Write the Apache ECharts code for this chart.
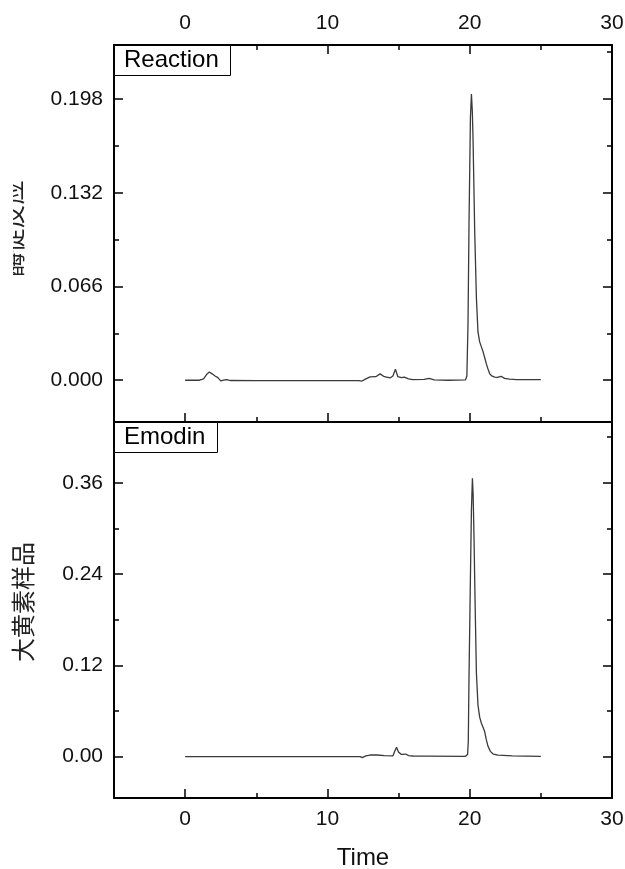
<!DOCTYPE html>
<html>
<head>
<meta charset="utf-8">
<script src="https://cdn.jsdelivr.net/npm/echarts@6/dist/echarts.min.js"></script>
<style>
  html, body { margin: 0; padding: 0; background: #fff; }
  #main { width: 625px; height: 869px; }
</style>
</head>
<body>
<div id="main"></div>
<script>
// 刻度
const timeTicks = [0, 10, 20, 30]
const timeMinor = [5, 15, 25]
const reactionTicks = [0, 0.066, 0.132, 0.198]
const reactionMinor = [0.033, 0.099, 0.165, 0.231]
const emodinTicks = [0, 0.12, 0.24, 0.36]
const emodinMinor = [0.06, 0.18, 0.30, 0.42]

// 色谱数据 [时间, 响应]
const reactionData = [
  [0, 0], [1.0, 0], [1.3, 0.001], [1.5, 0.004], [1.7, 0.0058], [1.9, 0.0045],
  [2.1, 0.003], [2.3, 0.0018], [2.4, 0.0022], [2.5, -0.0005], [2.7, 0], [2.9, 0.0005],
  [3.2, -0.0002], [5, -0.0003], [8, -0.0003], [12.2, -0.0003], [12.4, -0.0007],
  [12.7, 0.001], [13.0, 0.0023], [13.4, 0.0025], [13.7, 0.0045], [14.0, 0.0025],
  [14.4, 0.0016], [14.6, 0.003], [14.78, 0.0077], [14.95, 0.0025], [15.2, 0.0018],
  [15.4, 0.0022], [15.7, 0.001], [16.0, 0.0005], [16.8, 0.0006], [17.15, 0.0013],
  [17.5, 0.0002], [18.5, 0], [19.7, 0.0002], [19.8, 0.003], [19.88, 0.04],
  [19.95, 0.11], [20.05, 0.185], [20.12, 0.2015], [20.18, 0.19], [20.23, 0.172],
  [20.35, 0.105], [20.47, 0.058], [20.58, 0.034], [20.7, 0.027], [20.82, 0.0235],
  [20.94, 0.02], [21.05, 0.016], [21.17, 0.0115], [21.28, 0.008], [21.4, 0.0047],
  [21.55, 0.003], [21.75, 0.0022], [21.95, 0.002], [22.2, 0.0028], [22.45, 0.0013],
  [22.8, 0.0008], [23.3, 0.0005], [25, 0.0005]
]
const emodinData = [
  [0, 0], [2.4, 0], [2.46, 0.0015], [2.5, 0], [6, 0], [12.3, 0], [12.45, -0.0012],
  [12.7, 0.001], [13.0, 0.0022], [13.5, 0.0022], [14.0, 0.0015], [14.6, 0.001],
  [14.75, 0.008], [14.86, 0.0123], [15.0, 0.006], [15.2, 0.003], [15.5, 0.0035],
  [15.7, 0.0015], [16.0, 0.0009], [17, 0.0008], [19.7, 0.0005], [19.85, 0.003],
  [19.9, 0.02], [19.95, 0.105], [20.05, 0.236], [20.12, 0.324], [20.19, 0.366],
  [20.24, 0.345], [20.3, 0.29], [20.38, 0.2], [20.47, 0.11], [20.58, 0.068],
  [20.7, 0.052], [20.82, 0.044], [20.95, 0.038], [21.05, 0.033], [21.17, 0.022],
  [21.28, 0.014], [21.45, 0.007], [21.65, 0.0035], [22.0, 0.002], [23, 0.001],
  [25, 0.0005]
]

const font = 'Liberation Sans, Arial, sans-serif'
const xRange = [-5, 30]
const yRange = [[-0.0294, 0.236], [-0.0543, 0.440]]

// 一条边上的主刻度轴 + 次刻度轴
function xPair (grid, position, labels, ticks) {
  const base = {
    type: 'value', gridIndex: grid, position, min: xRange[0], max: xRange[1],
    splitLine: { show: false }
  }
  return [
    Object.assign({}, base, {
      axisLine: { show: true, onZero: false, lineStyle: { color: '#000', width: 2 } },
      axisTick: { show: ticks, inside: true, length: 9, customValues: timeTicks, lineStyle: { color: '#000', width: 1.5 } },
      axisLabel: { show: labels, customValues: timeTicks, margin: 11, fontFamily: font, fontSize: 21, color: '#111' }
    }),
    Object.assign({}, base, {
      axisLine: { show: false, onZero: false },
      axisTick: { show: ticks, inside: true, length: 5, customValues: timeMinor, lineStyle: { color: '#000', width: 1.5 } },
      axisLabel: { show: false }
    })
  ]
}

function yPair (grid, position, major, minor, digits, labels) {
  const base = {
    type: 'value', gridIndex: grid, position,
    min: yRange[grid][0], max: yRange[grid][1],
    splitLine: { show: false }
  }
  return [
    Object.assign({}, base, {
      axisLine: { show: true, onZero: false, lineStyle: { color: '#000', width: 2 } },
      axisTick: { show: true, inside: true, length: 9, customValues: major, lineStyle: { color: '#000', width: 1.5 } },
      axisLabel: {
        show: labels, customValues: major, margin: 11, fontFamily: font, fontSize: 21, color: '#111',
        formatter: v => v.toFixed(digits)
      }
    }),
    Object.assign({}, base, {
      axisLine: { show: false, onZero: false },
      axisTick: { show: true, inside: true, length: 5, customValues: minor, lineStyle: { color: '#000', width: 1.5 } },
      axisLabel: { show: false }
    })
  ]
}

const xAxis = [
  ...xPair(0, 'bottom', false, true),
  ...xPair(0, 'top', true, true),
  ...xPair(1, 'bottom', true, true),
  ...xPair(1, 'top', false, false)
]
xAxis[4].name = 'Time'
xAxis[4].nameLocation = 'middle'
xAxis[4].nameGap = 48
xAxis[4].nameTextStyle = { fontFamily: font, fontSize: 24, color: '#111' }

const yAxis = [
  ...yPair(0, 'left', reactionTicks, reactionMinor, 3, true),
  ...yPair(0, 'right', reactionTicks, reactionMinor, 3, false),
  ...yPair(1, 'left', emodinTicks, emodinMinor, 2, true),
  ...yPair(1, 'right', emodinTicks, emodinMinor, 2, false)
]
yAxis[0].name = '酶促反应'
yAxis[0].nameLocation = 'middle'
yAxis[0].nameGap = 89
yAxis[0].nameTextStyle = { fontFamily: 'Noto Sans CJK SC', fontSize: 24, color: '#222', padding: [0, 0, 0, 10] }
yAxis[4].name = '大黄素样品'
yAxis[4].nameLocation = 'middle'
yAxis[4].nameGap = 79
yAxis[4].nameTextStyle = { fontFamily: 'Noto Sans CJK SC', fontSize: 24, color: '#222', padding: [0, 0, 0, 16] }

const boxText = { fontFamily: font, fontSize: 24, fontWeight: 'normal', color: '#000', lineHeight: 25 }

const option = {
  animation: false,
  backgroundColor: '#fff',
  grid: [
    { left: 114, top: 45, width: 498, height: 377, outerBoundsMode: 'none', containLabel: false },
    { left: 114, top: 422, width: 498, height: 376, outerBoundsMode: 'none', containLabel: false }
  ],
  title: [
    { text: 'Reaction', left: 114, top: 45, padding: [3, 12, 3, 10], borderColor: '#000', borderWidth: 1, backgroundColor: '#fff', textStyle: boxText },
    { text: 'Emodin', left: 114, top: 422, padding: [3, 12, 3, 10], borderColor: '#000', borderWidth: 1, backgroundColor: '#fff', textStyle: boxText }
  ],
  xAxis,
  yAxis,
  graphic: [
    // 左侧被截掉的纵轴标题
    { type: 'rect', left: 0, top: 165, z: 100, shape: { width: 13, height: 130 }, style: { fill: '#fff' } }
  ],
  series: [
    {
      name: 'Reaction', type: 'line', xAxisIndex: 0, yAxisIndex: 0, data: reactionData,
      showSymbol: false, lineStyle: { color: '#3a3a3a', width: 1.3 }
    },
    {
      name: 'Emodin', type: 'line', xAxisIndex: 4, yAxisIndex: 4, data: emodinData,
      showSymbol: false, lineStyle: { color: '#3a3a3a', width: 1.3 }
    }
  ]
}

const chart = echarts.init(document.getElementById('main'))
chart.setOption(option)
window.addEventListener('resize', chart.resize)
</script>
</body>
</html>
